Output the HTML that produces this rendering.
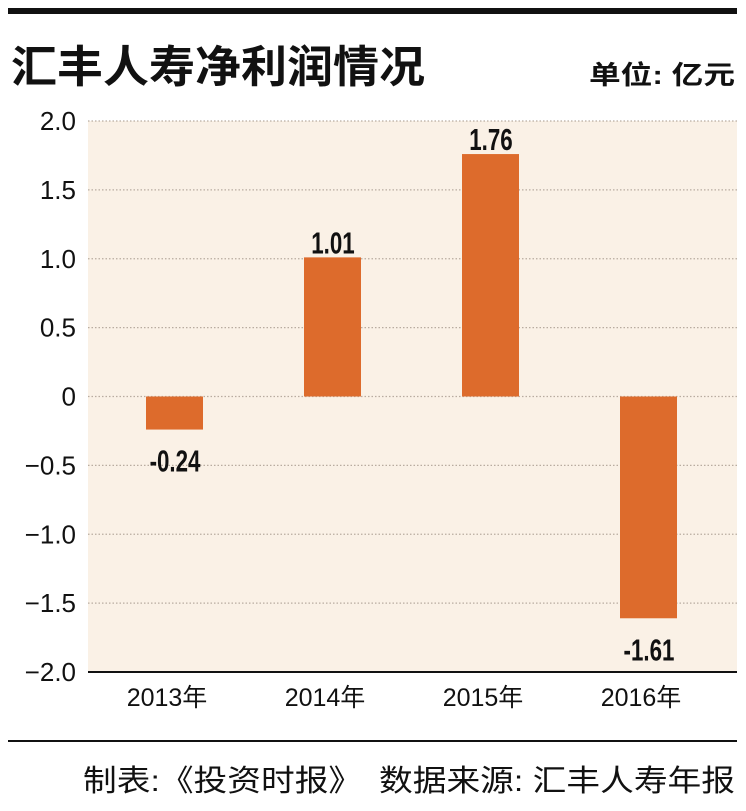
<!DOCTYPE html>
<html><head><meta charset="utf-8"><style>
body{margin:0;background:#fff;width:746px;height:806px;overflow:hidden;font-family:"Liberation Sans","Noto Sans CJK SC",sans-serif}
</style></head><body>
<svg width="746" height="806" xmlns="http://www.w3.org/2000/svg">
<rect x="8" y="8" width="729" height="6" fill="#111"/>
<text x="11" y="82" font-size="44" font-weight="bold" font-family="Liberation Sans,Noto Sans CJK SC,sans-serif" fill="#111" textLength="414" lengthAdjust="spacingAndGlyphs">汇丰人寿净利润情况</text>
<text x="735" y="84" text-anchor="end" font-size="26" font-weight="bold" font-family="Liberation Sans,Noto Sans CJK SC,sans-serif" fill="#111" textLength="146" lengthAdjust="spacingAndGlyphs">单位: 亿元</text>
<rect x="88" y="121" width="649" height="551" fill="#faf1e6"/>
<g id="grid"></g><g id="bars"></g><g id="labels"></g>
<line x1="88" y1="672" x2="737" y2="672" stroke="#111" stroke-width="2"/>
<line x1="8" y1="741" x2="737" y2="741" stroke="#111" stroke-width="2"/>
<text x="83" y="791" font-size="30" font-family="Liberation Sans,Noto Sans CJK SC,sans-serif" fill="#111" textLength="652" lengthAdjust="spacingAndGlyphs">制表:《投资时报》　数据来源: 汇丰人寿年报</text>
</svg>
<script>
const categories=["2013年","2014年","2015年","2016年"];
const values=[-0.24,1.01,1.76,-1.61];
const valueLabels=["-0.24","1.01","1.76","-1.61"];
const ticks=[2.0,1.5,1.0,0.5,0,-0.5,-1.0,-1.5,-2.0];
const tickLabels=["2.0","1.5","1.0","0.5","0","\u22120.5","\u22121.0","\u22121.5","\u22122.0"];
const NS="http://www.w3.org/2000/svg";
function y(v){return 396.5-v*137.75;}
function xc(i){return 175+i*158;}
function mk(t,a,p){const e=document.createElementNS(NS,t);for(const k in a)e.setAttribute(k,a[k]);p.appendChild(e);return e;}
const F="Liberation Sans,Noto Sans CJK SC,sans-serif";
const grid=document.getElementById('grid'),bars=document.getElementById('bars'),lab=document.getElementById('labels');
ticks.forEach((t,i)=>{
 if(t!==-2){const l=mk('line',{x1:88,x2:737,y1:y(t),y2:y(t),stroke:'#b8aca0','stroke-width':1.3,'stroke-dasharray':'1.5 2'},grid);
 
 }
 const tx=mk('text',{x:76,y:y(t)+9,'text-anchor':'end','font-size':26,'font-family':F,fill:'#111'},grid);
 tx.textContent=tickLabels[i];
 
 
});
values.forEach((v,i)=>{
 const top=Math.min(y(v),y(0)),h=Math.abs(y(v)-y(0));
 const r=mk('rect',{x:xc(i)-29,y:top,width:57,height:h,fill:'#dd6b2c'},bars);
 
 
 const vy=v>=0?y(v)-4:y(v)+42;
 const t=mk('text',{x:xc(i),y:vy,'text-anchor':'middle','font-size':31,'font-weight':'bold','font-family':F,fill:'#111',transform:`translate(${xc(i)},0) scale(0.72,1) translate(${-xc(i)},0)`},lab);
 t.textContent=valueLabels[i];
 
 
 const c=mk('text',{x:xc(i)-8,y:706,'text-anchor':'middle','font-size':25,'font-family':F,fill:'#111'},lab);
 c.textContent=categories[i];
 
 
});
</script>
</body></html>
